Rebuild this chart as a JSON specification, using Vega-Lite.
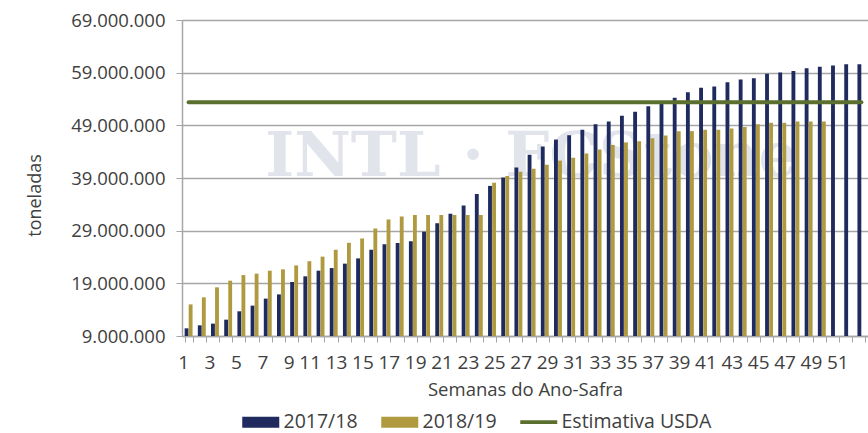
{
  "$schema": "https://vega.github.io/schema/vega-lite/v6.json",
  "width": 686,
  "height": 316,
  "autosize": {"type": "none"},
  "padding": {"left": 182, "top": 20, "right": 0, "bottom": 97},
  "background": "white",
  "config": {
    "locale": {"number": {"decimal": ",", "thousands": ".", "grouping": [3], "currency": ["R$", ""]}},
    "font": "Open Sans",
    "view": {"stroke": null},
    "axis": {
      "labelFont": "Open Sans", "titleFont": "Open Sans",
      "labelColor": "#404040", "titleColor": "#404040",
      "titleFontWeight": "normal", "labelFontSize": 18, "titleFontSize": 18,
      "domainColor": "#a6a6a6", "tickColor": "#a6a6a6", "gridColor": "#a6a6a6",
      "domainWidth": 1.5, "tickWidth": 1, "gridWidth": 1.5
    }
  },
  "datasets": {
    "bars": [
      {"week": 1, "series": "2017/18", "value": 10460000},
      {"week": 2, "series": "2017/18", "value": 11030000},
      {"week": 3, "series": "2017/18", "value": 11350000},
      {"week": 4, "series": "2017/18", "value": 12100000},
      {"week": 5, "series": "2017/18", "value": 13690000},
      {"week": 6, "series": "2017/18", "value": 14770000},
      {"week": 7, "series": "2017/18", "value": 16100000},
      {"week": 8, "series": "2017/18", "value": 16900000},
      {"week": 9, "series": "2017/18", "value": 19250000},
      {"week": 10, "series": "2017/18", "value": 20330000},
      {"week": 11, "series": "2017/18", "value": 21400000},
      {"week": 12, "series": "2017/18", "value": 21900000},
      {"week": 13, "series": "2017/18", "value": 22740000},
      {"week": 14, "series": "2017/18", "value": 23740000},
      {"week": 15, "series": "2017/18", "value": 25400000},
      {"week": 16, "series": "2017/18", "value": 26400000},
      {"week": 17, "series": "2017/18", "value": 26650000},
      {"week": 18, "series": "2017/18", "value": 26970000},
      {"week": 19, "series": "2017/18", "value": 28800000},
      {"week": 20, "series": "2017/18", "value": 30400000},
      {"week": 21, "series": "2017/18", "value": 32200000},
      {"week": 22, "series": "2017/18", "value": 33800000},
      {"week": 23, "series": "2017/18", "value": 35950000},
      {"week": 24, "series": "2017/18", "value": 37500000},
      {"week": 25, "series": "2017/18", "value": 39100000},
      {"week": 26, "series": "2017/18", "value": 41000000},
      {"week": 27, "series": "2017/18", "value": 43400000},
      {"week": 28, "series": "2017/18", "value": 45000000},
      {"week": 29, "series": "2017/18", "value": 46300000},
      {"week": 30, "series": "2017/18", "value": 47100000},
      {"week": 31, "series": "2017/18", "value": 48160000},
      {"week": 32, "series": "2017/18", "value": 49200000},
      {"week": 33, "series": "2017/18", "value": 49740000},
      {"week": 34, "series": "2017/18", "value": 50800000},
      {"week": 35, "series": "2017/18", "value": 51580000},
      {"week": 36, "series": "2017/18", "value": 52640000},
      {"week": 37, "series": "2017/18", "value": 53160000},
      {"week": 38, "series": "2017/18", "value": 54240000},
      {"week": 39, "series": "2017/18", "value": 55300000},
      {"week": 40, "series": "2017/18", "value": 56130000},
      {"week": 41, "series": "2017/18", "value": 56380000},
      {"week": 42, "series": "2017/18", "value": 57200000},
      {"week": 43, "series": "2017/18", "value": 57700000},
      {"week": 44, "series": "2017/18", "value": 57960000},
      {"week": 45, "series": "2017/18", "value": 58800000},
      {"week": 46, "series": "2017/18", "value": 59040000},
      {"week": 47, "series": "2017/18", "value": 59300000},
      {"week": 48, "series": "2017/18", "value": 59860000},
      {"week": 49, "series": "2017/18", "value": 60100000},
      {"week": 50, "series": "2017/18", "value": 60350000},
      {"week": 51, "series": "2017/18", "value": 60600000},
      {"week": 52, "series": "2017/18", "value": 60600000},
      {"week": 1, "series": "2018/19", "value": 15000000},
      {"week": 2, "series": "2018/19", "value": 16340000},
      {"week": 3, "series": "2018/19", "value": 18240000},
      {"week": 4, "series": "2018/19", "value": 19500000},
      {"week": 5, "series": "2018/19", "value": 20570000},
      {"week": 6, "series": "2018/19", "value": 20840000},
      {"week": 7, "series": "2018/19", "value": 21400000},
      {"week": 8, "series": "2018/19", "value": 21660000},
      {"week": 9, "series": "2018/19", "value": 22400000},
      {"week": 10, "series": "2018/19", "value": 23200000},
      {"week": 11, "series": "2018/19", "value": 24070000},
      {"week": 12, "series": "2018/19", "value": 25400000},
      {"week": 13, "series": "2018/19", "value": 26700000},
      {"week": 14, "series": "2018/19", "value": 27500000},
      {"week": 15, "series": "2018/19", "value": 29400000},
      {"week": 16, "series": "2018/19", "value": 31100000},
      {"week": 17, "series": "2018/19", "value": 31700000},
      {"week": 18, "series": "2018/19", "value": 31960000},
      {"week": 19, "series": "2018/19", "value": 31960000},
      {"week": 20, "series": "2018/19", "value": 31960000},
      {"week": 21, "series": "2018/19", "value": 31960000},
      {"week": 22, "series": "2018/19", "value": 31960000},
      {"week": 23, "series": "2018/19", "value": 31960000},
      {"week": 24, "series": "2018/19", "value": 38100000},
      {"week": 25, "series": "2018/19", "value": 39400000},
      {"week": 26, "series": "2018/19", "value": 40200000},
      {"week": 27, "series": "2018/19", "value": 40760000},
      {"week": 28, "series": "2018/19", "value": 41500000},
      {"week": 29, "series": "2018/19", "value": 42300000},
      {"week": 30, "series": "2018/19", "value": 42850000},
      {"week": 31, "series": "2018/19", "value": 43670000},
      {"week": 32, "series": "2018/19", "value": 44400000},
      {"week": 33, "series": "2018/19", "value": 45250000},
      {"week": 34, "series": "2018/19", "value": 45760000},
      {"week": 35, "series": "2018/19", "value": 46000000},
      {"week": 36, "series": "2018/19", "value": 46570000},
      {"week": 37, "series": "2018/19", "value": 47080000},
      {"week": 38, "series": "2018/19", "value": 47900000},
      {"week": 39, "series": "2018/19", "value": 47900000},
      {"week": 40, "series": "2018/19", "value": 48160000},
      {"week": 41, "series": "2018/19", "value": 48160000},
      {"week": 42, "series": "2018/19", "value": 48400000},
      {"week": 43, "series": "2018/19", "value": 48660000},
      {"week": 44, "series": "2018/19", "value": 49200000},
      {"week": 45, "series": "2018/19", "value": 49500000},
      {"week": 46, "series": "2018/19", "value": 49500000},
      {"week": 47, "series": "2018/19", "value": 49740000},
      {"week": 48, "series": "2018/19", "value": 49740000},
      {"week": 49, "series": "2018/19", "value": 49740000}
    ],
    "usda": [
      {"series": "Estimativa USDA", "start": 1, "end": 52, "value": 53400000}
    ],
    "mark": [
      {"label": "INTL · FCStone", "week": 27, "value": 39400000}
    ]
  },
  "layer": [
    {
      "data": {"name": "mark"},
      "mark": {"type": "text", "font": "DejaVu Serif", "fontWeight": "bold", "fontSize": 62, "color": "#e1e4eb", "align": "center", "baseline": "alphabetic"},
      "encoding": {
        "x": {"field": "week", "type": "ordinal"},
        "y": {"field": "value", "type": "quantitative", "scale": {"domain": [9000000, 69000000], "nice": false, "zero": false}},
        "text": {"field": "label"}
      }
    },
    {
      "data": {"name": "bars"},
      "mark": {"type": "bar", "clip": true},
      "encoding": {
        "x": {
          "field": "week", "type": "ordinal",
          "scale": {"paddingInner": 0.4, "paddingOuter": 0.2},
          "axis": {
            "title": "Semanas do Ano-Safra",
            "labelAngle": 0,
            "labelExpr": "datum.value % 2 == 1 ? datum.label : ''",
            "labelOverlap": false,
            "labelBaseline": "middle",
            "labelFontSize": 19,
            "labelPadding": 20,
            "tickSize": 6,
            "tickBand": "extent",
            "grid": false,
            "titleBaseline": "middle",
            "titleFontSize": 18.5,
            "titleY": 53
          }
        },
        "xOffset": {"field": "series", "type": "nominal", "scale": {"domain": ["2017/18", "2018/19"], "paddingInner": 0.05}},
        "y": {
          "field": "value", "type": "quantitative",
          "scale": {"domain": [9000000, 69000000], "nice": false, "zero": false},
          "axis": {
            "title": "toneladas",
            "values": [9000000, 19000000, 29000000, 39000000, 49000000, 59000000, 69000000],
            "format": ",.0f",
            "grid": true,
            "tickSize": 6,
            "labelPadding": 11,
            "labelFontSize": 18.5,
            "titleX": -147,
            "titleY": 175,
            "titleAlign": "center",
            "titleBaseline": "middle"
          }
        },
        "color": {
          "field": "series", "type": "nominal",
          "scale": {"domain": ["2017/18", "2018/19", "Estimativa USDA"], "range": ["#1f2a5e", "#b09a3f", "#5b6f2f"]},
          "legend": {
            "orient": "none", "legendX": 56, "legendY": 392, "direction": "horizontal", "title": null,
            "symbolType": "M-1,-1H5.73V1H-1Z", "symbolSize": 121,
            "labelFontSize": 19.5, "labelColor": "#404040", "labelFont": "Open Sans",
            "columnPadding": 19, "labelOffset": 26, "symbolStrokeWidth": 0, "symbolOpacity": 1,
            "encode": {"symbols": {"update": {
              "shape": {"signal": "datum.value === 'Estimativa USDA' ? 'M-1,-0.36H5.73V0.36H-1Z' : 'M-1,-1H5.73V1H-1Z'"},
              "fill": {"scale": "color", "field": "value"},
              "stroke": {"value": "transparent"}
            }}}
          }
        }
      }
    },
    {
      "data": {"name": "usda"},
      "mark": {"type": "rule", "strokeWidth": 4, "strokeCap": "round"},
      "encoding": {
        "x": {"field": "start", "type": "ordinal"},
        "x2": {"field": "end"},
        "y": {"field": "value", "type": "quantitative", "scale": {"domain": [9000000, 69000000], "nice": false, "zero": false}},
        "color": {
          "field": "series", "type": "nominal",
          "legend": {
            "orient": "none", "legendX": 56, "legendY": 392, "direction": "horizontal", "title": null,
            "symbolType": "M-1,-1H5.73V1H-1Z", "symbolSize": 121,
            "labelFontSize": 19.5, "labelColor": "#404040", "labelFont": "Open Sans",
            "columnPadding": 19, "labelOffset": 26, "symbolStrokeWidth": 0, "symbolOpacity": 1,
            "encode": {"symbols": {"update": {
              "shape": {"signal": "datum.value === 'Estimativa USDA' ? 'M-1,-0.36H5.73V0.36H-1Z' : 'M-1,-1H5.73V1H-1Z'"},
              "fill": {"scale": "color", "field": "value"},
              "stroke": {"value": "transparent"}
            }}}
          }
        }
      }
    }
  ]
}
